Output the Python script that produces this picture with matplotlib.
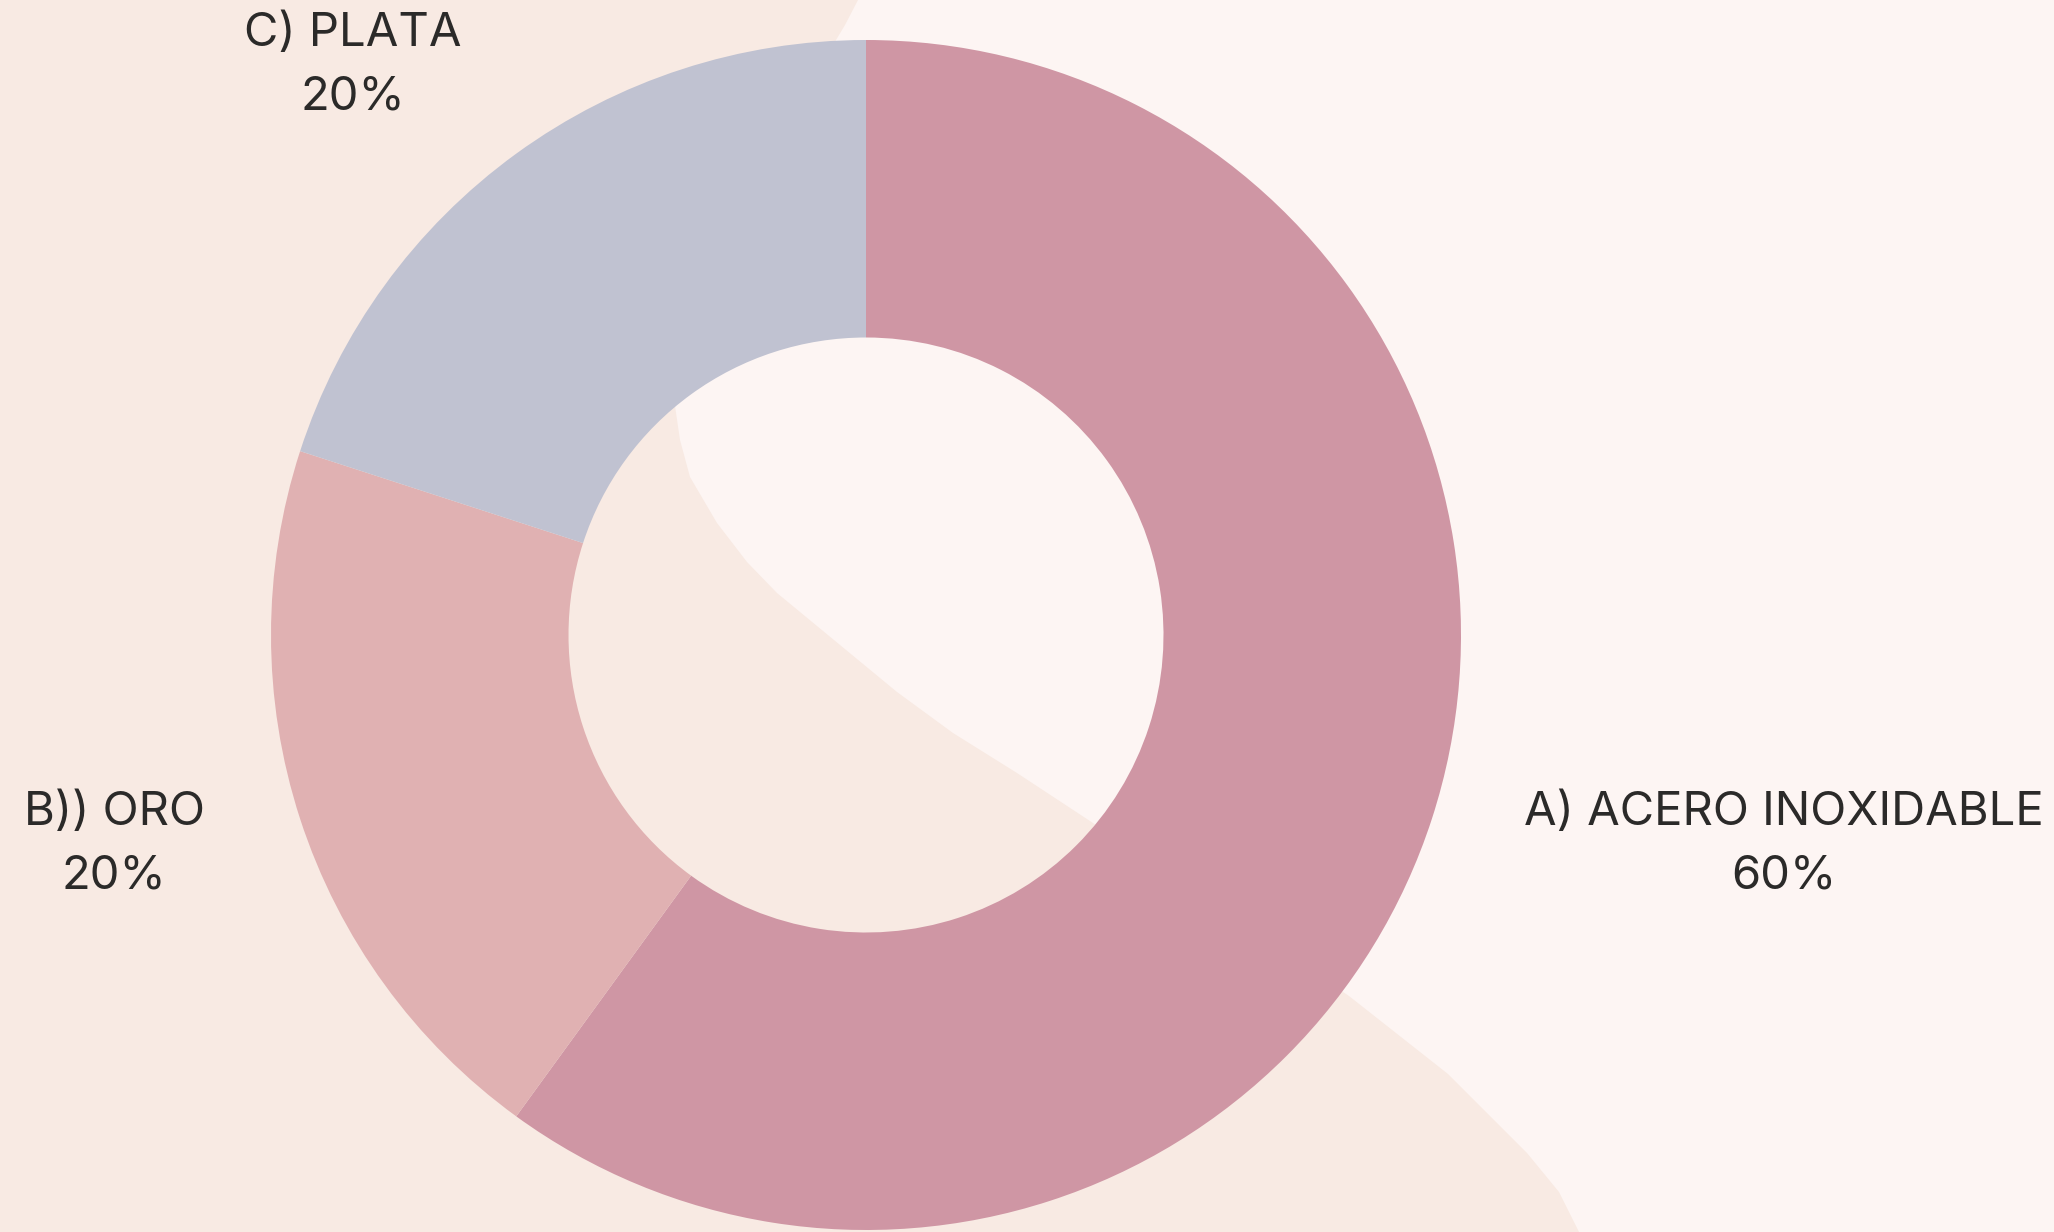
import matplotlib
matplotlib.use("Agg")
import matplotlib.pyplot as plt
from matplotlib.patches import Polygon
import numpy as np

# ---- data ----
categories = ["A) ACERO INOXIDABLE", "B)) ORO", "C) PLATA"]
values = [60, 20, 20]
pct_labels = ["60%", "20%", "20%"]
colors = ["#CF96A4", "#E0B1B2", "#C0C2D1"]

W, H = 2054, 1232
fig = plt.figure(figsize=(W / 100, H / 100), dpi=100)
fig.patch.set_facecolor("#FDF5F3")

ax = fig.add_axes([0, 0, 1, 1])
ax.set_facecolor("none")

# pixel geometry of the donut
cx, cy, R = 866, 635, 595

def px(x, y):
    return ((x - cx) / R, (cy - y) / R)

# decorative background split (left/lower tone)
bpts = [(0, 0), (858, 0), (845, 25), (836, 40), (790, 130), (740, 230),
        (700, 320), (675, 406), (680, 440), (690, 477), (717, 523),
        (747, 562), (777, 593), (897, 692), (953, 733), (1017, 773),
        (1093, 823), (1349, 996), (1448, 1074), (1494, 1120),
        (1527, 1153), (1559, 1192), (1579, 1232), (0, 1232)]
poly = Polygon([px(x, y) for x, y in bpts], closed=True,
               facecolor="#F8EAE3", edgecolor="none", zorder=0)
ax.add_patch(poly)

ax.pie(values, colors=colors, startangle=90, counterclock=False,
       radius=1.0, center=(0, 0), frame=True,
       wedgeprops=dict(width=0.5, edgecolor="none", linewidth=0, zorder=2))
ax.set_xlim(-cx / R, (W - cx) / R)
ax.set_ylim(-(H - cy) / R, cy / R)
ax.set_aspect("auto")
ax.axis("off")

label_pos = [(1784, 845), (114, 845), (353, 66)]
tc = "#2B2A29"
for (lx, ly), name, pct in zip(label_pos, categories, pct_labels):
    x, y = px(lx, ly)
    ax.text(x, y, name + "\n" + pct, ha="center", va="center",
            fontsize=34, color=tc, family=["Inter", "DejaVu Sans"],
            linespacing=1.58, zorder=5)

fig.savefig("out.png", dpi=100, facecolor=fig.get_facecolor())
